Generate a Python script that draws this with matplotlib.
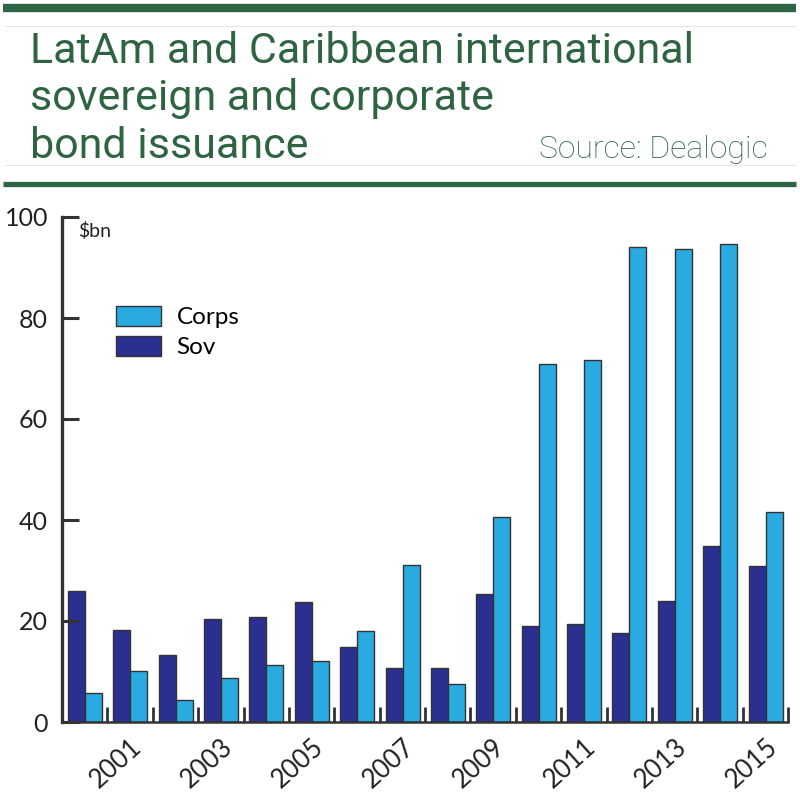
import matplotlib
matplotlib.use("Agg")
import matplotlib.pyplot as plt
from matplotlib.lines import Line2D
from matplotlib.patches import Patch
import numpy as np

years = list(range(2000, 2016))
sov = [26.0, 18.2, 13.3, 20.3, 20.7, 23.8, 14.9, 10.6, 10.6, 25.3, 19.1, 19.5, 17.6, 24.0, 34.9, 30.8]
corps = [5.7, 10.1, 4.4, 8.8, 11.3, 12.0, 18.1, 31.1, 7.5, 40.5, 70.8, 71.6, 94.1, 93.7, 94.7, 41.5]
label_years = [2001, 2003, 2005, 2007, 2009, 2011, 2013, 2015]
yticks = [0, 20, 40, 60, 80, 100]

GREEN = "#2f6442"
SOV_C = "#2b2f8f"
CORPS_C = "#29abe2"
EDGE = "#333333"
AX_C = "#333333"

plt.rcParams['font.family'] = ['Lato', 'DejaVu Sans']

fig = plt.figure(figsize=(8, 7.95), dpi=100)
W, H = 800, 795

def fx(px):
    return px / W

def fy(py):
    return 1 - py / H

# decorative rules
fig.add_artist(Line2D([fx(3), fx(796)], [fy(7.5), fy(7.5)], color=GREEN, lw=6, solid_capstyle='butt'))
fig.add_artist(Line2D([fx(5), fx(795)], [fy(25.5), fy(25.5)], color="#e6e6e6", lw=0.8))
fig.add_artist(Line2D([fx(5), fx(795)], [fy(165), fy(165)], color="#e6e6e6", lw=0.8))
fig.add_artist(Line2D([fx(3), fx(796)], [fy(184), fy(184)], color=GREEN, lw=3.8, solid_capstyle='butt'))

title_font = ['Roboto', 'DejaVu Sans']
for txt, by in [("LatAm and Caribbean international", 63),
                ("sovereign and corporate", 110),
                ("bond issuance", 158)]:
    fig.text(fx(30), fy(by), txt, color=GREEN, fontsize=31, family=title_font,
             ha='left', va='baseline')
fig.text(fx(768), fy(158), "Source: Dealogic", color=GREEN, fontsize=23,
         family=['Roboto', 'DejaVu Sans'], fontweight='light', ha='right', va='baseline')

ax = fig.add_axes([fx(62), fy(722), (788 - 62) / W, (722 - 217) / H])
x = np.arange(len(years))
bw = 0.375
ax.bar(x + 0.13, sov, width=bw, align='edge', color=SOV_C, edgecolor=EDGE, linewidth=1, label='Sov')
ax.bar(x + 0.13 + bw, corps, width=bw, align='edge', color=CORPS_C, edgecolor=EDGE, linewidth=1, label='Corps')

ax.set_xlim(0, len(years))
ax.set_ylim(0, 100)
for s in ['top', 'right']:
    ax.spines[s].set_visible(False)
ax.spines['left'].set_linewidth(2.4)
ax.spines['left'].set_color(AX_C)
ax.spines['bottom'].set_linewidth(1.8)
ax.spines['bottom'].set_color(AX_C)

ax.set_yticks(yticks)
ax.set_yticklabels([str(v) for v in yticks])
ax.tick_params(axis='y', direction='in', length=12, width=2.2, color=AX_C,
               labelsize=18, pad=10, labelcolor='#222222')

lab_pos = [years.index(y) + 0.5 for y in label_years]
ax.set_xticks(lab_pos)
ax.set_xticklabels([str(y) for y in label_years], rotation=42, ha='right',
                   rotation_mode='anchor', fontsize=18.5, color='#222222')
ax.tick_params(axis='x', which='major', length=0, pad=9)
ax.set_xticks(np.arange(1, len(years) + 1), minor=True)
ax.tick_params(axis='x', which='minor', direction='in', length=11, width=2, color=AX_C)

ax.text(0.022, 0.99, "$bn", transform=ax.transAxes, fontsize=14, ha='left', va='top', color='#222222')

handles = [Patch(facecolor=CORPS_C, edgecolor=EDGE, linewidth=1),
           Patch(facecolor=SOV_C, edgecolor=EDGE, linewidth=1)]
ax.legend(handles, ['Corps', 'Sov'], loc='upper left', bbox_to_anchor=(0.074, 0.824),
          frameon=False, fontsize=17.5, handlelength=1.85, handleheight=0.9,
          handletextpad=0.65, labelspacing=0.3, borderpad=0, borderaxespad=0)

fig.savefig("out.png", dpi=100)
